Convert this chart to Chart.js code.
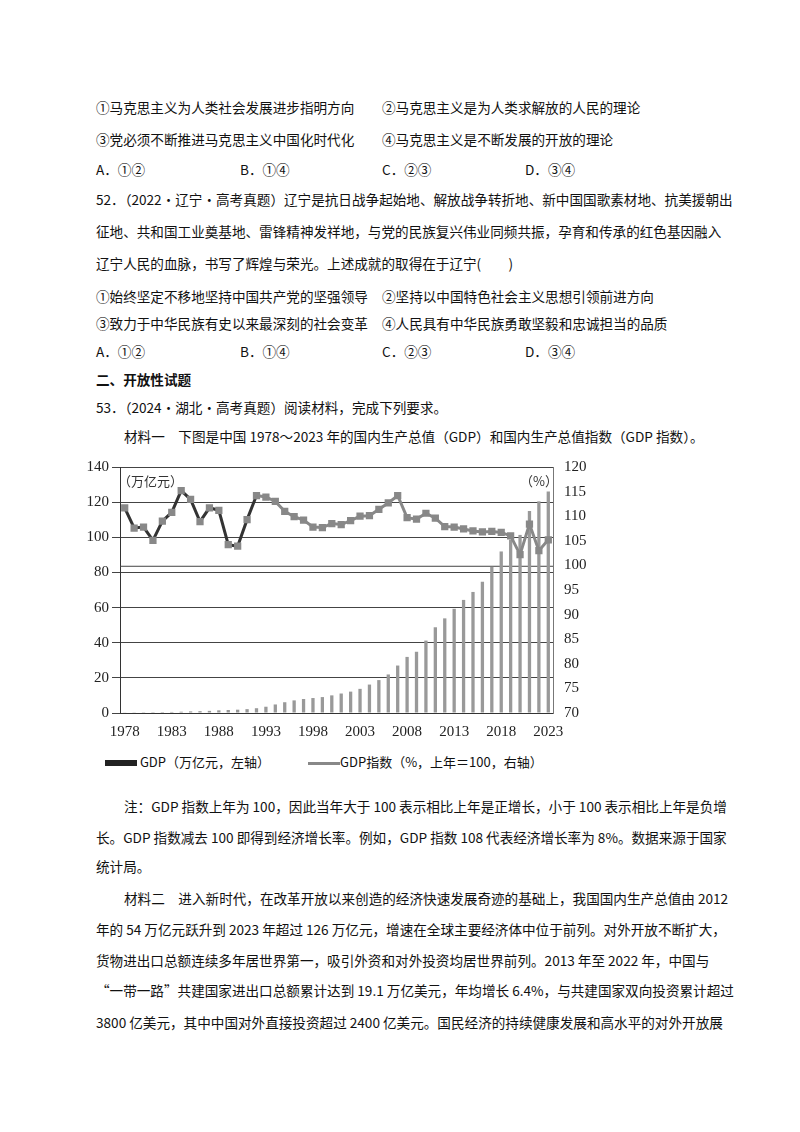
<!DOCTYPE html><html><head><meta charset="utf-8">
<script src="https://cdn.jsdelivr.net/npm/chart.js@4"></script>
<style>
body{margin:0;width:800px;height:1132px;background:#fff;font-family:"Noto Sans CJK SC","Noto Sans",sans-serif;color:#111;position:relative;font-size:13.6px}
.l{position:absolute;white-space:nowrap;line-height:20px}
#wrap{position:absolute;left:75px;top:455px;width:520px;height:284px}
</style></head><body>
<div class="l" style="left:96px;top:97px">①马克思主义为人类社会发展进步指明方向</div>
<div class="l" style="left:382px;top:97px">②马克思主义是为人类求解放的人民的理论</div>
<div class="l" style="left:96px;top:129px">③党必须不断推进马克思主义中国化时代化</div>
<div class="l" style="left:382px;top:129px">④马克思主义是不断发展的开放的理论</div>
<div class="l" style="left:96px;top:159px">A．①②</div><div class="l" style="left:240px;top:159px">B．①④</div><div class="l" style="left:382px;top:159px">C．②③</div><div class="l" style="left:525px;top:159px">D．③④</div>
<div class="l" style="left:96px;top:189px">52．（2022·辽宁·高考真题）辽宁是抗日战争起始地、解放战争转折地、新中国国歌素材地、抗美援朝出</div>
<div class="l" style="left:96px;top:221px">征地、共和国工业奠基地、雷锋精神发祥地，与党的民族复兴伟业同频共振，孕育和传承的红色基因融入</div>
<div class="l" style="left:96px;top:253px">辽宁人民的血脉，书写了辉煌与荣光。上述成就的取得在于辽宁(　　)</div>
<div class="l" style="left:96px;top:286px">①始终坚定不移地坚持中国共产党的坚强领导</div>
<div class="l" style="left:382px;top:286px">②坚持以中国特色社会主义思想引领前进方向</div>
<div class="l" style="left:96px;top:313px">③致力于中华民族有史以来最深刻的社会变革</div>
<div class="l" style="left:382px;top:313px">④人民具有中华民族勇敢坚毅和忠诚担当的品质</div>
<div class="l" style="left:96px;top:341px">A．①②</div><div class="l" style="left:240px;top:341px">B．①④</div><div class="l" style="left:382px;top:341px">C．②③</div><div class="l" style="left:525px;top:341px">D．③④</div>
<div class="l" style="left:96px;top:369px;font-weight:bold">二、开放性试题</div>
<div class="l" style="left:96px;top:397px">53．（2024·湖北·高考真题）阅读材料，完成下列要求。</div>
<div class="l" style="left:124px;top:426px">材料一　下图是中国 1978～2023 年的国内生产总值（GDP）和国内生产总值指数（GDP 指数）。</div>
<div id="wrap"><canvas id="c"></canvas></div>
<div class="l" style="left:118px;top:471px;font-size:13px;color:#333">（万亿元）</div>
<div class="l" style="left:520px;top:471px;font-size:13px;color:#333">（%）</div>
<div class="l" style="left:105px;top:752px;font-size:13px"><span style="display:inline-block;width:32px;height:6px;background:#222;vertical-align:middle"></span> GDP（万亿元，左轴）</div>
<div class="l" style="left:308px;top:752px;font-size:13px"><span style="display:inline-block;width:32px;height:3px;background:#888;vertical-align:middle"></span>GDP指数（%，上年＝100，右轴）</div>
<div class="l" style="left:124px;top:796px">注：GDP 指数上年为 100，因此当年大于 100 表示相比上年是正增长，小于 100 表示相比上年是负增</div>
<div class="l" style="left:96px;top:827px">长。GDP 指数减去 100 即得到经济增长率。例如，GDP 指数 108 代表经济增长率为 8%。数据来源于国家</div>
<div class="l" style="left:96px;top:856px">统计局。</div>
<div class="l" style="left:124px;top:888px">材料二　进入新时代，在改革开放以来创造的经济快速发展奇迹的基础上，我国国内生产总值由 2012</div>
<div class="l" style="left:96px;top:919px">年的 54 万亿元跃升到 2023 年超过 126 万亿元，增速在全球主要经济体中位于前列。对外开放不断扩大，</div>
<div class="l" style="left:96px;top:950px">货物进出口总额连续多年居世界第一，吸引外资和对外投资均居世界前列。2013 年至 2022 年，中国与</div>
<div class="l" style="left:96px;top:980px">“一带一路”共建国家进出口总额累计达到 19.1 万亿美元，年均增长 6.4%，与共建国家双向投资累计超过</div>
<div class="l" style="left:96px;top:1012px">3800 亿美元，其中中国对外直接投资超过 2400 亿美元。国民经济的持续健康发展和高水平的对外开放展</div>
<script>
const years=[];for(let y=1978;y<=2023;y++)years.push(String(y));
const gdp=[0.37,0.41,0.46,0.49,0.54,0.60,0.73,0.91,1.04,1.22,1.52,1.72,1.89,2.20,2.72,3.57,4.86,6.13,7.18,7.97,8.52,9.06,10.03,11.09,12.17,13.74,16.18,18.73,21.94,27.01,31.92,34.85,41.21,48.79,53.86,59.30,64.36,68.89,74.64,83.20,91.93,98.65,101.36,114.92,120.47,126.06];
const idx=[111.7,107.6,107.8,105.1,109.0,110.8,115.2,113.4,108.9,111.7,111.2,104.2,103.9,109.3,114.2,113.9,113.0,111.0,109.9,109.2,107.8,107.7,108.5,108.3,109.1,110.0,110.1,111.4,112.7,114.2,109.7,109.4,110.6,109.6,107.9,107.8,107.4,107.0,106.8,106.9,106.7,106.0,102.2,108.4,103.0,105.2];
const xLabels=['1978','1983','1988','1993','1998','2003','2008','2013','2018','2023'];
const extra={id:'extra',beforeDatasetsDraw(ch){const c=ch.ctx,y=ch.scales.y,a=ch.chartArea;c.save();c.strokeStyle='#444';c.lineWidth=1;const p=y.getPixelForValue(83.5);c.beginPath();c.moveTo(a.left,p);c.lineTo(a.right,p);c.stroke();c.restore();}};
const F={size:15,family:'Liberation Serif'};
new Chart(document.getElementById('c'),{data:{labels:years,datasets:[
{type:'line',data:idx,yAxisID:'y1',borderColor:'#888',borderWidth:3,pointStyle:'rect',pointRadius:3,pointBackgroundColor:'#888',pointBorderColor:'#888',
segment:{borderColor:c=>c.p0DataIndex<14?'#333':'#888'},order:0},
{type:'bar',data:gdp,yAxisID:'y',backgroundColor:'#999',barPercentage:0.35,categoryPercentage:1,order:1}]},
options:{responsive:true,maintainAspectRatio:false,animation:false,plugins:{legend:{display:false},tooltip:{enabled:false}},
layout:{padding:{top:8,right:0,left:0,bottom:0}},
scales:{x:{offset:true,grid:{display:false},border:{color:'#333'},ticks:{autoSkip:false,maxRotation:0,padding:2,font:F,color:'#222',callback:(v,i)=>xLabels.includes(years[i])?years[i]:''},afterFit:s=>{s.height=26}},
y:{min:0,max:140,ticks:{stepSize:20,font:F,color:'#222'},grid:{color:'#444'},border:{color:'#333'},afterFit:s=>{s.width=45}},
y1:{position:'right',min:70,max:120,ticks:{stepSize:5,font:F,color:'#222'},grid:{display:false},border:{color:'#777'},afterFit:s=>{s.width=42}}}},
plugins:[extra]});
</script></body></html>
